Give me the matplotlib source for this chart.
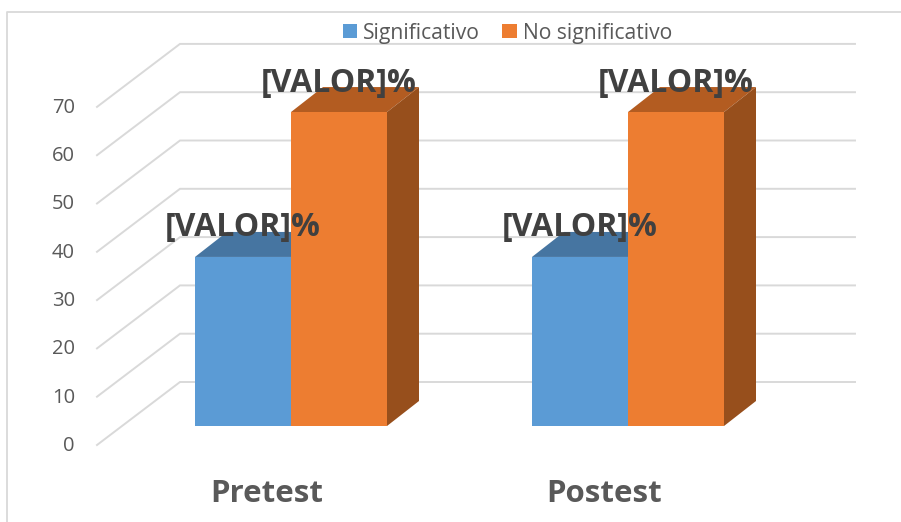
import matplotlib
matplotlib.use('Agg')
import matplotlib.pyplot as plt
from matplotlib.patches import Polygon

categories = ['Pretest', 'Postest']
series_names = ['Significativo', 'No significativo']
significativo = [35, 35]
no_significativo = [65, 65]
ticks = [0, 10, 20, 30, 40, 50, 60, 70]
value_label = '[VALOR]%'

plt.rcParams['font.family'] = ['Open Sans', 'DejaVu Sans']

fig = plt.figure(figsize=(9.01, 5.22), dpi=100)
ax = fig.add_axes([0, 0, 1, 1])

# 1 category = 337 px, 1 value unit = 4.83 px, pretest centre at x=291, zero at y=426
px_x = 337.0
px_y = 4.83
ax.set_xlim(-291 / px_x, (901 - 291) / px_x)
ax.set_ylim((426 - 522) / px_y, 426 / px_y)
ax.axis('off')

bar_w = 96 / px_x
dx = 32 / px_x
dy = 25 / px_y
grid_c = '#d9d9d9'

# outer frame
ax.plot([7 / 901, 7 / 901, 1], [0, 1 - 12 / 522, 1 - 12 / 522], color=grid_c, lw=1.3,
        transform=ax.transAxes, clip_on=False, zorder=1)

# gridlines: side wall then back wall
front_x = (97 - 291) / px_x
back_x = (180 - 291) / px_x
end_x = (855 - 291) / px_x
front_off = -19 / px_y
back_off = 44 / px_y
for t in ticks:
    ax.plot([front_x, back_x, end_x], [t + front_off, t + back_off, t + back_off],
            color=grid_c, lw=1.4, zorder=1, solid_joinstyle='miter')
    ax.text(-216 / px_x, t + front_off - 1 / px_y, str(t), ha='right', va='center',
            fontsize=14.5, color='#595959')

def bar3d(x0, v, face, top, side):
    ax.add_patch(Polygon([(x0, v), (x0 + bar_w, v), (x0 + bar_w + dx, v + dy), (x0 + dx, v + dy)],
                         closed=True, facecolor=top, edgecolor='none', zorder=2))
    ax.add_patch(Polygon([(x0 + bar_w, 0), (x0 + bar_w + dx, dy), (x0 + bar_w + dx, v + dy), (x0 + bar_w, v)],
                         closed=True, facecolor=side, edgecolor='none', zorder=2))
    return ax.bar(x0, v, width=bar_w, align='edge', color=face, zorder=3)

handles = []
for i, cat in enumerate(categories):
    b1 = bar3d(i - bar_w, significativo[i], '#5b9bd5', '#4675a1', '#3a618a')
    b2 = bar3d(i, no_significativo[i], '#ed7d31', '#b35c21', '#974f1c')
    handles = [b1, b2]
    ax.text(i - 48 / px_x, significativo[i] + 29 / px_y, value_label, ha='center', va='center',
            fontsize=23, fontweight='bold', color='#404040', zorder=5)
    ax.text(i + 48 / px_x, no_significativo[i] + 29 / px_y, value_label, ha='center', va='center',
            fontsize=23, fontweight='bold', color='#404040', zorder=5)
    ax.text(i - 24 / px_x, (426 - 494) / px_y, cat, ha='center', va='center',
            fontsize=22.5, fontweight='bold', color='#595959')

leg = ax.legend(handles, series_names, loc='center', bbox_to_anchor=(507.5 / 901, 1 - 33 / 522),
                ncol=2, frameon=False, fontsize=15.2, labelcolor='#595959',
                handlelength=0.67, handleheight=0.67, handletextpad=0.3, columnspacing=1.05,
                borderpad=0, borderaxespad=0)
leg.set_zorder(6)

fig.savefig('out.png', dpi=100)
